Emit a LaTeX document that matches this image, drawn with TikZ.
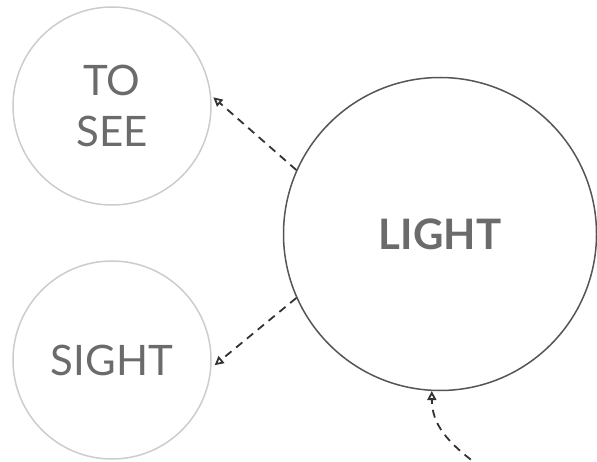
\documentclass[tikz,border=0pt]{standalone}
\usepackage{fontspec}
\setmainfont{Lato}
\usetikzlibrary{arrows.meta}
\definecolor{txtgray}{HTML}{6B6B6B}
\definecolor{ringgray}{HTML}{CCCCCC}
\definecolor{ringdark}{HTML}{555555}
\definecolor{linkgray}{HTML}{333333}
\begin{document}
\begin{tikzpicture}[x=1pt,y=-1pt,
  small/.style={circle,draw=ringgray,line width=1.5pt,minimum size=198pt,inner sep=0pt,
    text=txtgray,align=center,font=\fontsize{42}{51}\selectfont},
  big/.style={circle,draw=ringdark,line width=1.5pt,minimum size=313pt,inner sep=0pt,
    text=txtgray,font=\fontsize{42}{51}\selectfont\bfseries},
  link/.style={-{Triangle[open,length=9pt,width=9pt]},dash pattern=on 8pt off 6pt,
    line width=1.8pt,draw=linkgray}]
 \useasboundingbox (0,0) rectangle (597,462);
 \node[small] (tosee) at (112,106) {TO\\SEE};
 \node[small] (sight) at (112,360) {SIGHT};
 \node[big] (light) at (440,234) {LIGHT};
 \coordinate (src) at (482,468);
 \draw[link] (light.156) -- ([xshift=2pt]tosee.5);
 \draw[link] (light.204) -- ([xshift=3pt]sight.-3);
 \draw[link] (src) .. controls (446,442) and (432,424) .. (light.267);
\end{tikzpicture}
\end{document}
